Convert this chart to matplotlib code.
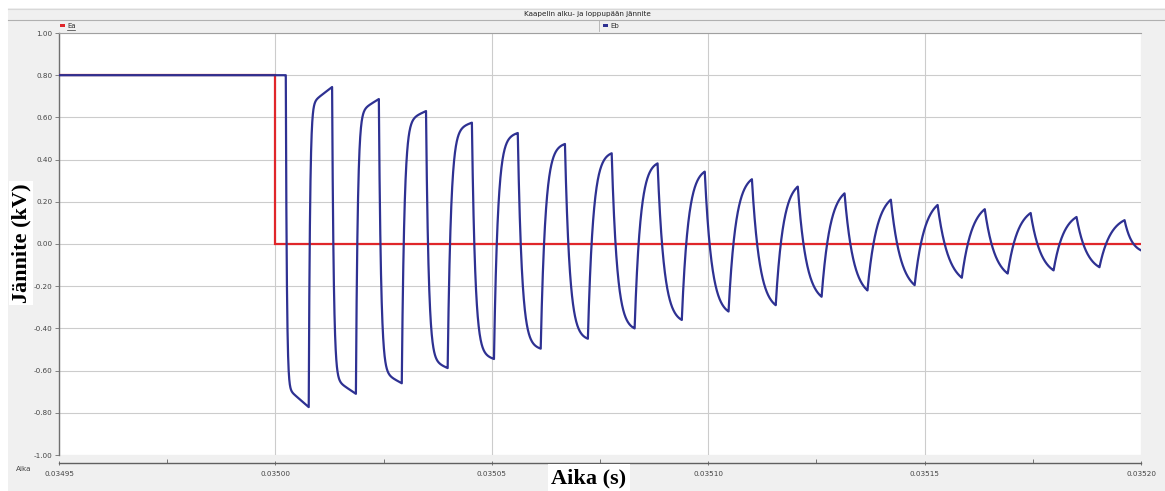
import numpy as np
import matplotlib
matplotlib.use("Agg")
import matplotlib.pyplot as plt
from matplotlib.patches import Rectangle
from matplotlib.lines import Line2D
from matplotlib.ticker import MultipleLocator, FormatStrFormatter

# --- data -------------------------------------------------------------
title = "Kaapelin alku- ja loppupään jännite"
series_names = ["Ea", "Eb"]

# Ea: sending-end voltage, step to zero at t = 0.03500 s
ea_time = [0.03495, 0.03500, 0.03500, 0.03520]
ea_volt = [0.80, 0.80, 0.00, 0.00]

# Eb: receiving-end voltage, turning points of the ringing (s, kV)
eb_time = [0.03495, 0.0350024, 0.0350077, 0.0350131, 0.0350186, 0.0350239,
           0.0350292, 0.0350348, 0.0350398, 0.0350454, 0.0350505, 0.0350560,
           0.0350613, 0.0350669, 0.0350722, 0.0350777, 0.0350830, 0.0350883,
           0.0350939, 0.0350992, 0.0351047, 0.0351101, 0.0351156, 0.0351207,
           0.0351262, 0.0351315, 0.0351368, 0.0351422, 0.0351477, 0.0351530,
           0.0351586, 0.0351639, 0.0351692, 0.0351745, 0.0351798, 0.0351851,
           0.0351904, 0.0351962, 0.0352000]
eb_volt = [0.80, 0.80, -0.773, 0.744, -0.710, 0.687,
           -0.660, 0.630, -0.588, 0.575, -0.545, 0.526,
           -0.496, 0.474, -0.449, 0.430, -0.400, 0.382,
           -0.360, 0.343, -0.320, 0.307, -0.290, 0.272,
           -0.250, 0.240, -0.220, 0.210, -0.195, 0.185,
           -0.160, 0.165, -0.140, 0.147, -0.125, 0.128,
           -0.110, 0.113, -0.030]

y_ticks = [-1.0, -0.8, -0.6, -0.4, -0.2, 0.0, 0.2, 0.4, 0.6, 0.8, 1.0]
x_ticks = [0.03495, 0.03500, 0.03505, 0.03510, 0.03515, 0.03520]

# --- build the Eb trace between turning points -------------------------
def settle(s, k, w):
    g = (np.exp(-s / k) - np.exp(-1.0 / k)) / (1.0 - np.exp(-1.0 / k))
    return w * g + (1.0 - w) * (1.0 - s)

tt, vv = [], []
n_seg = len(eb_time) - 1
for i in range(n_seg):
    t0, t1 = eb_time[i], eb_time[i + 1]
    v0, v1 = eb_volt[i], eb_volt[i + 1]
    frac = max(i - 1, 0) / (n_seg - 1)
    k = min(0.045 + 0.55 * frac ** 1.1, 0.45)
    w = min(0.94 + 0.15 * frac, 1.0)
    s = np.linspace(0, 1, 160)
    tt.append(t0 + s * (t1 - t0))
    vv.append(v1 + (v0 - v1) * settle(s, k, w))
eb_t = np.concatenate(tt)
eb_v = np.concatenate(vv)

# --- figure -----------------------------------------------------------
W, H = 1165, 491
fig = plt.figure(figsize=(W / 100, H / 100), dpi=100)
fig.patch.set_facecolor("white")

def fx(px):
    return px / W

def fy(py):
    return 1 - py / H

# window panel and header bars
fig.add_artist(Rectangle((fx(8), 0), fx(W - 8), fy(8), transform=fig.transFigure,
                         facecolor="#f0f0f0", edgecolor="none", zorder=-10))
fig.add_artist(Line2D([fx(8), 1], [fy(8.5), fy(8.5)], transform=fig.transFigure,
                      color="#d8d8d8", lw=0.8))
fig.add_artist(Line2D([fx(8), 1], [fy(19.5), fy(19.5)], transform=fig.transFigure,
                      color="#b0b0b0", lw=0.8))
fig.add_artist(Line2D([fx(599), fx(599)], [fy(20), fy(31)], transform=fig.transFigure,
                      color="#b0b0b0", lw=0.6))

fig.text(fx(587), fy(14), title, ha="center", va="center", fontsize=5.2, color="#222222")

# legend entries
legend_cols = ["#e0262a", "#2e3192"]
legend_x = [60, 603]
for name, col, lx in zip(series_names, legend_cols, legend_x):
    fig.add_artist(Rectangle((fx(lx), fy(27)), fx(5), 3 / H, transform=fig.transFigure,
                             facecolor=col, edgecolor="none"))
    fig.text(fx(lx + 7), fy(25.5), name, ha="left", va="center", fontsize=5, color="#333333")
fig.add_artist(Line2D([fx(67), fx(75)], [fy(29.5), fy(29.5)], transform=fig.transFigure,
                      color="#333333", lw=0.5))

ax = fig.add_axes([fx(59), fy(455), fx(1141 - 59), (455 - 33) / H])
ax.set_facecolor("white")
ax.set_xlim(x_ticks[0], x_ticks[-1])
ax.set_ylim(-1.0, 1.0)

ax.set_yticks(y_ticks)
ax.yaxis.set_major_formatter(FormatStrFormatter("%.2f"))
ax.set_xticks(x_ticks)
ax.xaxis.set_major_formatter(FormatStrFormatter("%.5f"))
ax.xaxis.set_minor_locator(MultipleLocator(0.000025))

ax.grid(True, which="major", color="#cccccc", lw=0.8)
ax.set_axisbelow(True)

ax.plot(ea_time, ea_volt, color=legend_cols[0], lw=1.6, solid_joinstyle="miter", zorder=3)
ax.plot(eb_t, eb_v, color=legend_cols[1], lw=1.6, zorder=4)

ax.spines["right"].set_visible(False)
ax.spines["top"].set_color("#a0a0a0")
ax.spines["top"].set_linewidth(0.8)
ax.spines["left"].set_color("#707070")
ax.spines["left"].set_linewidth(1.0)
ax.spines["bottom"].set_color("#606060")
ax.spines["bottom"].set_linewidth(1.0)
ax.spines["bottom"].set_position(("outward", 5.8))

ax.tick_params(axis="y", which="major", length=3, width=0.6, color="#707070",
               labelsize=5.2, labelcolor="#444444", pad=1.5)
ax.tick_params(axis="x", which="major", length=3, width=0.6, color="#606060",
               direction="inout", labelsize=5.2, labelcolor="#444444", pad=4)
ax.tick_params(axis="x", which="minor", length=3, width=0.6, color="#606060",
               direction="in")

fig.text(fx(16), fy(469), "Aika", ha="left", va="center", fontsize=5.2, color="#444444")

serif = ["Liberation Serif", "DejaVu Serif"]
fig.text(fx(21), fy(243), "Jännite (kV)", rotation=90, ha="center", va="center",
         fontsize=16, fontweight="bold", family=serif, color="black",
         bbox=dict(facecolor="white", edgecolor="none", pad=1.5))
fig.text(fx(589), fy(478), "Aika (s)", ha="center", va="center",
         fontsize=16, fontweight="bold", family=serif, color="black",
         bbox=dict(facecolor="white", edgecolor="none", pad=2.5))

fig.savefig("out.png", dpi=100, facecolor=fig.get_facecolor())
